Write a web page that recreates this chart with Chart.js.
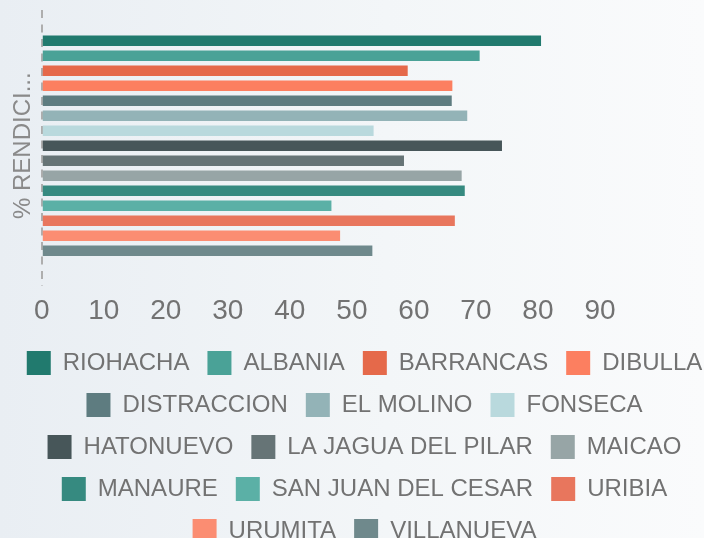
<!DOCTYPE html>
<html>
<head>
<meta charset="utf-8">
<script src="https://cdn.jsdelivr.net/npm/chart.js@4/dist/chart.umd.min.js"></script>
<style>
  html, body {
    margin: 0;
    width: 704px;
    height: 538px;
    overflow: hidden;
    background: linear-gradient(to right, #e9eef3 0%, #f3f6f8 55%, #fafbfc 100%);
  }
  .chart-wrapper {
    position: relative;
    width: 732px;
    height: 553px;
  }
</style>
</head>
<body>
<div class="chart-wrapper">
  <canvas id="chart"></canvas>
</div>
<script>
// Municipios y % de rendimiento
const municipios = [
    'RIOHACHA', 'ALBANIA', 'BARRANCAS', 'DIBULLA', 'DISTRACCION',
    'EL MOLINO', 'FONSECA', 'HATONUEVO', 'LA JAGUA DEL PILAR', 'MAICAO',
    'MANAURE', 'SAN JUAN DEL CESAR', 'URIBIA', 'URUMITA', 'VILLANUEVA'
];
const rendimiento = [80.5, 70.6, 59.0, 66.2, 66.1, 68.6, 53.5, 74.2, 58.4, 67.7, 68.2, 46.7, 66.6, 48.1, 53.3];
const colores = [
    '#217a6e', '#4aa297', '#e5694a', '#fc7f60', '#5e7c80',
    '#93b3b7', '#b9d9dd', '#475659', '#667476', '#97a5a6',
    '#368a80', '#5bb0a6', '#e8765d', '#fb8d72', '#6f898c'
];
const categorias = [''];
const ejeTitulo = '% RENDICI...';
const tickMax = 90;

const textColor = '#727272';
const baseFont = 'Liberation Sans, Arial, sans-serif';

// one dataset per municipio, all sharing a single category
const datasets = municipios.map((nombre, i) => ({
    label: nombre,
    data: [rendimiento[i]],
    backgroundColor: colores[i],
    borderWidth: 0,
    barPercentage: 0.7,
    categoryPercentage: 0.8,
}));

new Chart(document.getElementById('chart'), {
    type: 'bar',
    data: {
        labels: categorias,
        datasets: datasets,
    },
    options: {
        indexAxis: 'y',
        responsive: true,
        maintainAspectRatio: false,
        animation: false,
        layout: {
            padding: { top: 5, left: 5, right: 8, bottom: 0 },
        },
        plugins: {
            legend: {
                position: 'bottom',
                labels: {
                    boxWidth: 24,
                    boxHeight: 24,
                    padding: 18,
                    color: textColor,
                    font: { family: baseFont, size: 24 },
                },
            },
            tooltip: { enabled: false },
        },
        scales: {
            x: {
                min: 0,
                max: 110,
                // only the zero line is drawn (dashed), it acts as the axis line
                grid: {
                    display: true,
                    drawTicks: false,
                    lineWidth: 2,
                    color: (ctx) => (ctx.tick && ctx.tick.value === 0 ? '#aeaeae' : 'transparent'),
                },
                border: { display: false, dash: [8, 6.5], dashOffset: 9.5 },
                ticks: {
                    stepSize: 10,
                    padding: 8,
                    color: textColor,
                    font: { family: 'Liberation Sans Narrow, Arial Narrow, ' + baseFont, size: 28 },
                    // only label the ticks up to 90
                    callback: (value) => (value <= tickMax ? value : ''),
                },
                afterFit: (scale) => {
                    scale.height -= 3;
                },
            },
            y: {
                grid: { display: false, drawTicks: false },
                border: { display: false },
                ticks: { display: false },
                title: {
                    display: true,
                    text: ejeTitulo,
                    color: '#8a8a8a',
                    font: { family: baseFont, size: 24 },
                },
            },
        },
    },
});
</script>
</body>
</html>
